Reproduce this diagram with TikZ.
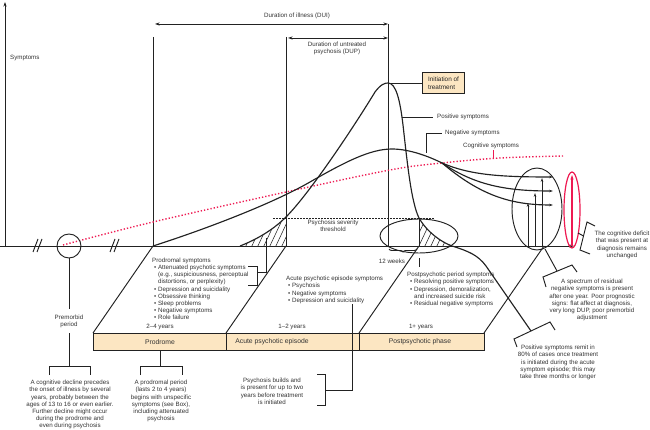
\documentclass[tikz,border=0pt]{standalone}
\usepackage{fontspec}
\setmainfont{Liberation Sans}
\usetikzlibrary{arrows.meta,decorations.pathreplacing}
\definecolor{peach}{HTML}{FCE6C2}
\definecolor{cred}{HTML}{EE1A52}
\definecolor{ink}{HTML}{222222}
\begin{document}
\begin{tikzpicture}[x=1pt,y=-1pt,
  txt/.style={font=\fontsize{6.2}{7.2}\selectfont, text=black!80, inner sep=0pt},
  ln/.style={draw=ink, line width=0.95pt},
  crv/.style={draw=ink, line width=1.15pt},
  tipa/.style={-{Stealth[length=4.5pt,width=3pt]}},
  tipb/.style={-{Stealth[length=4pt,width=2.6pt]}},
  phase/.style={draw=ink, line width=1pt, fill=peach},
  hatch/.style={draw=ink, line width=0.55pt},
  cog/.style={draw=cred, line width=1.4pt, dash pattern=on 1.3pt off 2pt},
]
\useasboundingbox (0,0) rectangle (650,430);

% axes
\draw[ln,tipa] (5,246) -- (5,2);
\draw[ln,tipa] (0,246) -- (574,246);
% break marks
\foreach \bx in {33,37,110,114} \draw[ln] (\bx,252) -- ++(5,-13);

% verticals
\draw[ln] (153,37) -- (153,246);
\draw[ln] (286,37) -- (286,246);
\draw[ln] (388,24) -- (388,246);

% duration arrows
\draw[ln,{Stealth[length=4.5pt,width=3pt]}-{Stealth[length=4.5pt,width=3pt]}] (155,24) -- (388,24);
\draw[ln,{Stealth[length=4.5pt,width=3pt]}-{Stealth[length=4.5pt,width=3pt]}] (288,38) -- (388,38);
\node[txt] (dui) at (297,16) {Duration of illness (DUI)};
\node[txt,align=center,anchor=north] (dup) at (337,42) {Duration of untreated\\psychosis (DUP)};
\node[txt,anchor=west] (sym) at (10,58) {Symptoms};

% hatched regions
\begin{scope}
\clip (240,246) .. controls (258,239) and (274,229) .. (286,217) -- (286,246) -- cycle;
\foreach \hx in {226,232,...,300} \draw[hatch] (\hx,250) -- ++(16,-34);
\end{scope}
\begin{scope}
\clip (419,218) .. controls (427,232) and (441,242) .. (452,246) -- (419,246) -- cycle;
\foreach \hx in {405,411,...,460} \draw[hatch] (\hx,250) -- ++(16,-34);
\end{scope}

% threshold
\draw[ink,line width=0.9pt,dash pattern=on 1.5pt off 1.5pt] (273,218) -- (435,218);
\node[txt,align=center,anchor=north] (thr) at (333,220) {Psychosis severity\\threshold};

% cognitive (red dotted)
\draw[cog] plot[smooth,tension=0.6] coordinates {(63,245) (153,222) (286,192) (390,170) (442,163) (500,158) (563,156)};

% negative symptoms curve
\draw[crv] (153,246) .. controls (200,231) and (270,205) .. (310,182)
  .. controls (345,162) and (370,149) .. (392,149)
  .. controls (410,149) and (430,157) .. (442,163);
\draw[crv,tipb] (442,163) .. controls (470,175) and (500,177) .. (553,177);
\draw[crv,tipb] (442,163) .. controls (475,185) and (505,191) .. (553,191);
\draw[crv,tipb] (442,163) .. controls (480,195) and (510,205) .. (553,205);

% positive symptoms curve (continues as connector to remit bracket)
\draw[crv] (240,246) .. controls (258,239) and (274,229) .. (286,217)
  .. controls (310,193) and (355,125) .. (375,92)
  .. controls (381,84) and (385,83) .. (388,83)
  .. controls (396,83) and (400,100) .. (403,125)
  .. controls (407,160) and (411,202) .. (419,218)
  .. controls (427,232) and (441,242) .. (452,246)
  .. controls (468,251) and (478,255) .. (486,266) -- (531,331);
\draw[ln] (419,246) -- (419,218);

% initiation of treatment
\node[draw=ink,line width=1pt,fill=peach,txt,font=\fontsize{6.4}{7.6}\selectfont,align=left,anchor=north west,minimum width=42pt,minimum height=21pt,inner sep=2.5pt,text=black!85] (init) at (422,72) {Initiation of\\treatment};
\draw[ln] (388,83) -- (init.west |- 0,83);

% labels of curves
\draw[ln] (402,117) -- (433,117);
\node[txt,anchor=west] (pos) at (437,117) {Positive symptoms};
\draw[ln] (426,153) -- (426,133) -- (442,133);
\node[txt,anchor=west] (neg) at (445,133) {Negative symptoms};
\draw[cred,line width=0.9pt] (493,150) -- (493,158);
\node[txt,anchor=west] (cogl) at (463,146) {Cognitive symptoms};

% small oval and 12 weeks
\draw[ln] (419,236) ellipse [x radius=39, y radius=17];
\draw[ln,decorate,decoration={brace,amplitude=3pt}] (417,249) -- (389,249);
\node[txt] (wk) at (392,261) {12 weeks};
\draw[ln] (419,258) -- (419,267);

% big ellipse with arrows
\draw[ln] (537,209) ellipse [x radius=25, y radius=41];
\draw[ln,tipb] (528,246) -- (528,203);
\draw[ln,tipb] (535,246) -- (535,193);
\draw[ln,tipb] (542,246) -- (542,178);
% red ellipse
\draw[cred,line width=1.2pt] (572,210) ellipse [x radius=8, y radius=38];
\draw[cred,line width=1.1pt,-{Stealth[length=4.5pt,width=3pt]}] (572,246) -- (572,175);

% premorbid
\draw[ln] (69,246) circle [radius=12];
\draw[ln] (69,258) -- (69,309);
\node[txt,align=center,anchor=north] (pre) at (69,315) {Premorbid\\period};
\draw[ln] (69,333) -- (69,366);
\draw[ln] (49,375) -- (49,366) -- (90,366) -- (90,375);
\node[txt,align=center,anchor=north] (cogdec) at (70,380) {A cognitive decline precedes\\the onset of illness by several\\years, probably between the\\ages of 13 to 16 or even earlier.\\Further decline might occur\\during the prodrome and\\even during psychosis};

% phase boxes
\draw[ln] (153,246) -- (93,333);
\draw[ln] (286,246) -- (226,333);
\draw[ln] (419,246) -- (359,333);
\draw[ln] (544,246) -- (484,333);
\draw[phase] (93,333) rectangle (226,350);
\draw[phase] (226,333) rectangle (359,350);
\draw[phase] (359,333) rectangle (484,350);
\node[txt,font=\fontsize{6.8}{8}\selectfont] (prod) at (160,342) {Prodrome};
\node[txt,font=\fontsize{6.8}{8}\selectfont] (acute) at (272,342) {Acute psychotic episode};
\node[txt,font=\fontsize{6.8}{8}\selectfont] (post) at (420,342) {Postpsychotic phase};
\node[txt] (y1) at (160,327) {2–4 years};
\node[txt] (y2) at (292,327) {1–2 years};
\node[txt] (y3) at (421,327) {1+ years};

% prodromal symptoms list
\node[txt,align=left,anchor=north west,font=\fontsize{6.2}{7.1}\selectfont] (plist) at (152,258) {Prodromal symptoms\\
\hspace*{2pt}• Attenuated psychotic symptoms\\
\hspace*{2pt}\phantom{• }(e.g., suspiciousness, perceptual\\
\hspace*{2pt}\phantom{• }distortions, or perplexity)\\
\hspace*{2pt}• Depression and suicidality\\
\hspace*{2pt}• Obsessive thinking\\
\hspace*{2pt}• Sleep problems\\
\hspace*{2pt}• Negative symptoms\\
\hspace*{2pt}• Role failure};
\draw[ln] (248,266) -- (257,266) -- (257,285) -- (248,285);
\draw[ln] (257,272) -- (266,272) -- (266,238);

% acute list
\node[txt,align=left,anchor=north west] (alist) at (286,276) {Acute psychotic episode symptoms\\
\hspace*{2pt}• Psychosis\\
\hspace*{2pt}• Negative symptoms\\
\hspace*{2pt}• Depression and suicidality};

% postpsychotic list
\node[txt,align=left,anchor=north west] (pplist) at (407,272) {Postpsychotic period symptoms\\
\hspace*{3pt}• Resolving positive symptoms\\
\hspace*{3pt}• Depression, demoralization,\\
\hspace*{3pt}\phantom{• }and increased suicide risk\\
\hspace*{3pt}• Residual negative symptoms};

% prodromal period note
\draw[ln] (160,350) -- (160,366);
\draw[ln] (140,375) -- (140,366) -- (182,366) -- (182,375);
\node[txt,align=center,anchor=north] (pnote) at (161,380) {A prodromal period\\(lasts 2 to 4 years)\\begins with unspecific\\symptoms (see Box),\\including attenuated\\psychosis};

% psychosis builds note
\draw[ln] (317,374) -- (325,374) -- (325,405) -- (317,405);
\draw[ln] (325,390) -- (352,390) -- (352,304);
\node[txt,align=center,anchor=north] (bnote) at (272,378) {Psychosis builds and\\is present for up to two\\years before treatment\\is initiated};

% positive remit note
\draw[ln] (517,347) -- (514,339) -- (550,322) -- (555,330);
\node[txt,align=center,anchor=north] (rnote) at (558,345) {Positive symptoms remit in\\80\% of cases once treatment\\is initiated during the acute\\symptom episode; this may\\take three months or longer};

% spectrum note
\draw[ln] (546,287) -- (543,277) -- (572,265) -- (577,272);
\draw[ln] (545,249) -- (557,271);
\node[txt,align=center,anchor=north] (snote) at (592,279) {A spectrum of residual\\negative symptoms is present\\after one year. Poor prognostic\\signs: flat affect at diagnosis,\\very long DUP, poor premorbid\\adjustment};

% cognitive deficit note
\draw[ln] (595,226) -- (587,222) -- (580,250) -- (590,254);
\draw[ln] (583.5,236) -- (578,233);
\node[txt,align=center,anchor=north] (cnote) at (622,231) {The cognitive deficit\\that was present at\\diagnosis remains\\unchanged};
\end{tikzpicture}
\end{document}
